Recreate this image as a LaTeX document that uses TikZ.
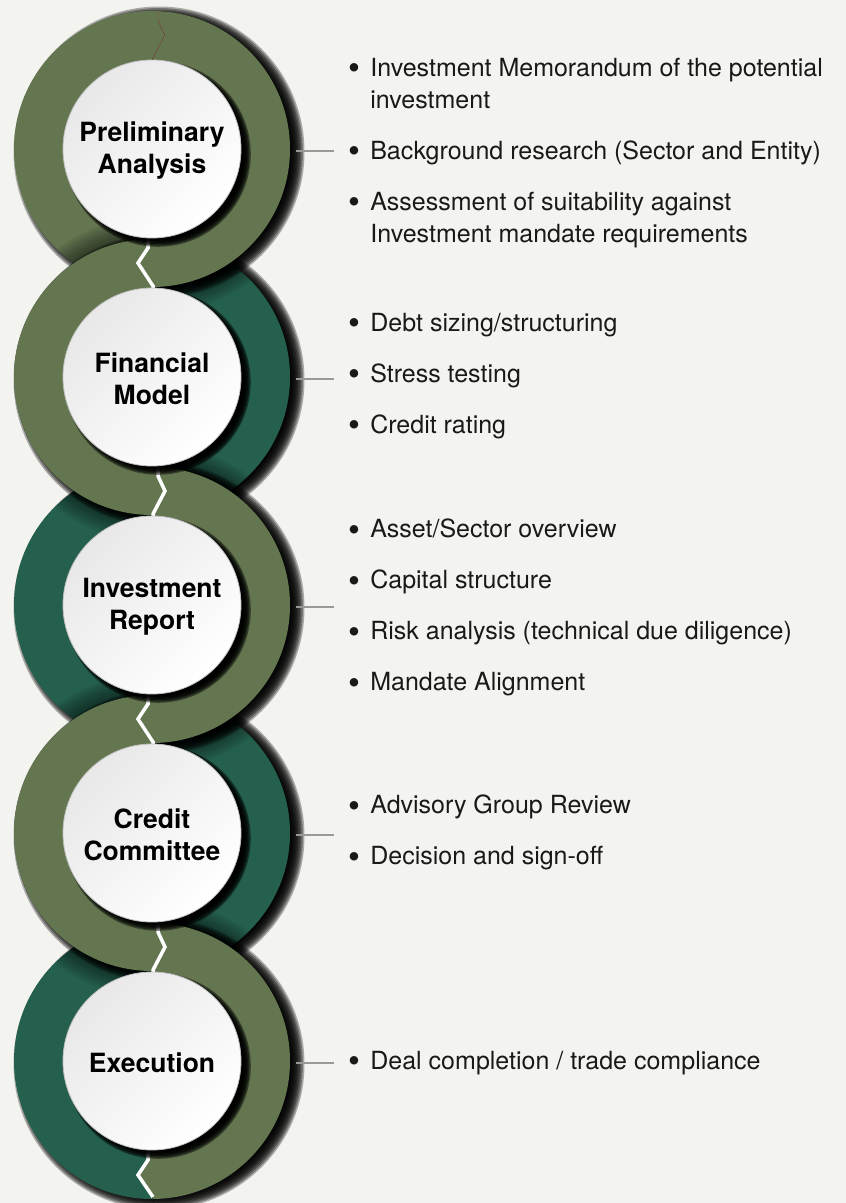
\documentclass[tikz,border=0pt]{standalone}
\usepackage{fontspec}
\setmainfont{TeX Gyre Heros}
\usetikzlibrary{positioning}

\definecolor{ringolive}{HTML}{637650}
\definecolor{ringteal}{HTML}{25604F}
\definecolor{pagebg}{HTML}{F3F3EF}
\definecolor{seamred}{HTML}{8E5B4B}

% half of a ring: centre y, top chevron x1 x2 x3, bottom chevron x1 x2 x3, outer x
\newcommand\halfring[8]{(#2,#1-160) -- (#2,#1-129) -- (#3,#1-114) -- (#4,#1-91)
  -- (#5,#1+99) -- (#6,#1+114) -- (#7,#1+137) -- (#7,#1+160)
  -- (#8,#1+160) -- (#8,#1-160) -- cycle}
\newcommand\itm{\raisebox{-3.5pt}{\fontsize{34}{34}\selectfont\textbullet}}

\begin{document}
\begin{tikzpicture}[x=1pt, y=-1pt,
  stagetitle/.style={circle, minimum size=288pt, inner sep=0pt, align=center,
    font=\fontsize{26.5}{32}\selectfont\bfseries, text=black, yshift=-2pt},
  itemlist/.style={inner xsep=14pt, inner ysep=0pt,
    font=\fontsize{25}{32}\selectfont, text=black!90},
  link/.style={draw=black!40, line width=1.3pt},
  node distance=38pt]
  \useasboundingbox (0,0) rectangle (846,1203);
  \fill[pagebg] (0,0) rectangle (846,1203);

  % halves lying underneath
  \foreach \cy/\ta/\tb/\tc/\ba/\bb/\bc/\far/\col in {
      149/158/165/153/148/138/153/-40/ringolive,
      377/148/138/153/158/165/153/340/ringteal,
      605/158/165/153/148/138/153/-40/ringteal,
      833/148/138/153/158/165/153/340/ringteal,
      1061/158/165/153/148/138/153/-40/ringteal}{
    \begin{scope}
      \clip \halfring{\cy}{\ta}{\tb}{\tc}{\ba}{\bb}{\bc}{\far};
      \foreach \i in {0,...,9}
        \fill[black, opacity=0.3] (159,\cy+3) circle ({132+1.5*\i});
      \fill[\col] (152,\cy) circle (138);
    \end{scope}
  }

  % olive halves on top
  \foreach \cy/\ta/\tb/\tc/\ba/\bb/\bc/\far in {
      149/158/165/153/148/138/153/340,
      377/148/138/153/158/165/153/-40,
      605/158/165/153/148/138/153/340,
      833/148/138/153/158/165/153/-40,
      1061/158/165/153/148/138/153/340}{
    \begin{scope}
      \clip \halfring{\cy}{\ta}{\tb}{\tc}{\ba}{\bb}{\bc}{\far};
      \begin{scope}
        \clip (152,149) circle (138) (152,377) circle (138) (152,605) circle (138)
          (152,833) circle (138) (152,1061) circle (138);
        \foreach \i in {0,...,8}
          \fill[black, opacity=0.08] (154,\cy+2) circle ({138+3*\i});
      \end{scope}
      \foreach \i in {0,...,9}
        \fill[black, opacity=0.3] (159,\cy+3) circle ({132+1.5*\i});
      \fill[ringolive] (152,\cy) circle (138);
    \end{scope}
  }

  % seams between halves
  \foreach \y/\xa/\xb/\xc in {149/148/138/153, 377/158/165/153, 605/148/138/153, 833/158/165/153}
    \draw[white, line width=3.5pt] (\xa,\y+89) -- (\xa,\y+99) -- (\xb,\y+114) -- (\xc,\y+137) -- (\xc,\y+141);
  \draw[white, line width=3.5pt] (148,1150) -- (148,1160) -- (138,1175) -- (153,1197);
  \draw[seamred, line width=0.5pt] (158,11) -- (158,20) -- (165,35) -- (153,58);

  % white discs
  \foreach \cy in {149,377,605,833,1061}{
    \foreach \i in {0,...,6}
      \fill[black, opacity=0.45] (158,\cy+5) circle ({85+1.3*\i});
    \shade[top color=black!9, bottom color=white, shading angle=45] (152,\cy) circle (89);
    \draw[black!25, line width=0.8pt] (152,\cy) circle (89);
  }

  \node[stagetitle] (t1) at (152,149) {Preliminary\\Analysis};
  \node[stagetitle] (t2) at (152,377) {Financial\\Model};
  \node[stagetitle] (t3) at (152,605) {Investment\\Report};
  \node[stagetitle] (t4) at (152,833) {Credit\\Committee};
  \node[stagetitle] (t5) at (152,1061) {Execution};

  \node[itemlist, right=of t1, yshift=-2pt] (l1) {\begin{tabular}{@{}c@{\hspace{10pt}}l@{}}
    \itm & Investment Memorandum of the potential\\
         & investment\\[19pt]
    \itm & Background research (Sector and Entity)\\[19pt]
    \itm & Assessment of suitability against\\
         & Investment mandate requirements
  \end{tabular}};
  \node[itemlist, right=of t2, yshift=3pt] (l2) {\begin{tabular}{@{}c@{\hspace{10pt}}l@{}}
    \itm & Debt sizing/structuring\\[19pt]
    \itm & Stress testing\\[19pt]
    \itm & Credit rating
  \end{tabular}};
  \node[itemlist, right=of t3, yshift=-1pt] (l3) {\begin{tabular}{@{}c@{\hspace{10pt}}l@{}}
    \itm & Asset/Sector overview\\[19pt]
    \itm & Capital structure\\[19pt]
    \itm & Risk analysis (technical due diligence)\\[19pt]
    \itm & Mandate Alignment
  \end{tabular}};
  \node[itemlist, right=of t4, yshift=2pt] (l4) {\begin{tabular}{@{}c@{\hspace{10pt}}l@{}}
    \itm & Advisory Group Review\\[19pt]
    \itm & Decision and sign-off
  \end{tabular}};
  \node[itemlist, right=of t5] (l5) {\begin{tabular}{@{}c@{\hspace{10pt}}l@{}}
    \itm & Deal completion / trade compliance
  \end{tabular}};

  \foreach \k in {1,...,5}
    \draw[link] (t\k.east) -- (t\k.east -| l\k.west);
\end{tikzpicture}
\end{document}
